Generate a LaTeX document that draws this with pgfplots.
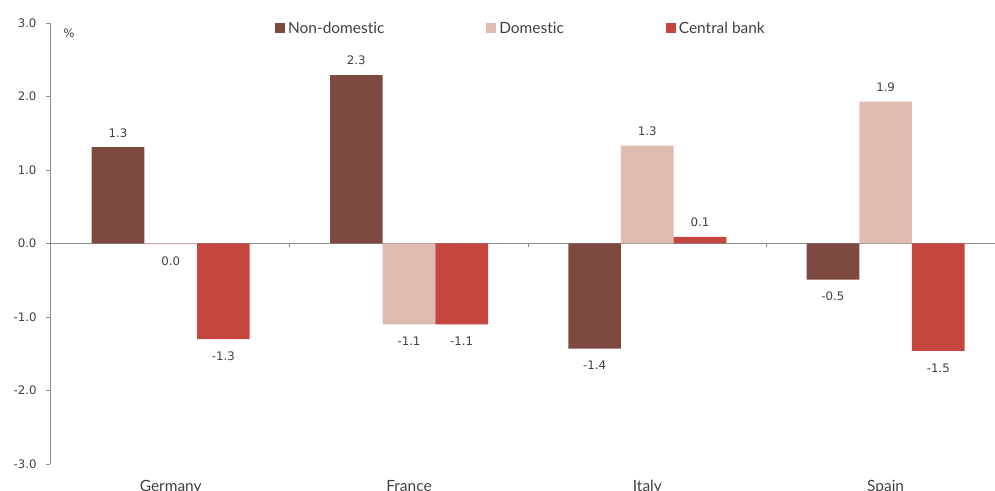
\documentclass[border=0pt]{standalone}
\usepackage{pgfplots}
\pgfplotsset{compat=1.18}
\usepackage{pgfplotstable}
\usepackage{fontspec}
\setmainfont{Lato}[Ligatures={NoCommon,NoRare}]
\newfontfamily\dejavu{DejaVu Sans}
\definecolor{nondom}{HTML}{7E4A3F}
\definecolor{dom}{HTML}{E0BBB1}
\definecolor{cb}{HTML}{C4463F}
\definecolor{txt}{HTML}{404040}
\definecolor{axc}{HTML}{8C8C8C}
\newcommand\numfont{\dejavu\fontsize{11.8}{14}\selectfont}
\newcommand\legfont{\fontsize{15.5}{18}\selectfont}

\pgfplotstableread{
x y
0 1.31
1 2.29
2 -1.43
3 -0.49
}\nondomtab
\pgfplotstableread{
x y
0 -0.01
1 -1.10
2 1.33
3 1.93
}\domtab
\pgfplotstableread{
x y
0 -1.30
1 -1.10
2 0.09
3 -1.46
}\cbtab

\begin{document}
\begin{tikzpicture}
\begin{axis}[
  at={(0,0)}, anchor=south west, scale only axis,
  width=945bp, height=441bp,
  xmin=-0.5065, xmax=3.459, ymin=-3, ymax=3,
  axis x line=middle, axis y line=left,
  axis line style={-, draw=axc, line width=0.9bp},
  xtick={0.5,1.5,2.5}, xticklabels={},
  ytick={-3,-2,...,3},
  tick align=outside, major tick length=4bp,
  tick style={draw=axc, line width=0.9bp},
  yticklabel style={font=\numfont, text=txt, xshift=-6bp},
  ybar=0pt, bar width=0.221,
  nodes near coords,
  every node near coord/.append style={font=\numfont, text=txt, inner ysep=10bp, text height=11bp, text depth=0bp},
  clip=false,
  legend image code/.code={\draw[#1,draw=none,/tikz/.cd] (0bp,-5bp) rectangle (10bp,5bp); \path (13bp,0bp);},
  legend style={at={(0.238,0.988)}, anchor=west, draw=none, fill=none, inner sep=0pt,
    font=\legfont, text=txt, nodes={inner sep=0pt},
    /tikz/every even column/.append style={column sep=102bp}},
  legend columns=-1,
  legend cell align=left,
  /pgf/number format/assume math mode=true,
  /pgf/number format/fixed,
  /pgf/number format/fixed zerofill,
  /pgf/number format/precision=1,
]
\addplot[fill=nondom, draw=none] table[x=x,y=y] {\nondomtab};
\addlegendentry{Non-domestic}
\addplot[fill=dom, draw=none] table[x=x,y=y] {\domtab};
\addlegendentry{Domestic}
\addplot[fill=cb, draw=none] table[x=x,y=y] {\cbtab};
\addlegendentry{Central bank}
\node[anchor=center, font=\numfont, text=txt] at (rel axis cs:0.020,0.977) {\%};
\node[anchor=north, yshift=-16bp, inner sep=0pt, font=\legfont, text=txt] at (axis cs:0,-3) {Germany};
\node[anchor=north, yshift=-16bp, inner sep=0pt, font=\legfont, text=txt] at (axis cs:1,-3) {France};
\node[anchor=north, yshift=-16bp, inner sep=0pt, font=\legfont, text=txt] at (axis cs:2,-3) {Italy};
\node[anchor=north, yshift=-16bp, inner sep=0pt, font=\legfont, text=txt] at (axis cs:3,-3) {Spain};
\end{axis}
\pgfresetboundingbox
\path[use as bounding box] (-50bp,-27bp) rectangle (945bp,464bp);
\end{tikzpicture}
\end{document}
